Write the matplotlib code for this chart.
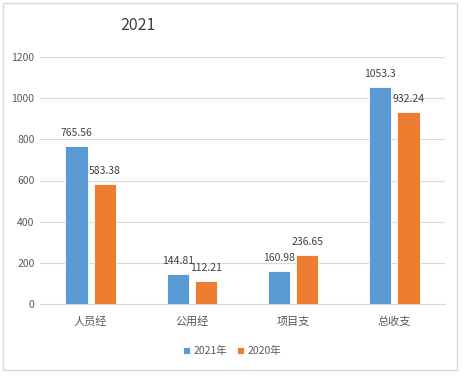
import matplotlib
matplotlib.use("Agg")
import matplotlib.pyplot as plt
from matplotlib.patches import Rectangle
import numpy as np

plt.rcParams['font.family'] = ['Noto Sans CJK SC', 'DejaVu Sans']

categories = ["人员经", "公用经", "项目支", "总收支"]
series_names = ["2021年", "2020年"]
values_2021 = [765.56, 144.81, 160.98, 1053.3]
values_2020 = [583.38, 112.21, 236.65, 932.24]
label_2021 = ["765.56", "144.81", "160.98", "1053.3"]
label_2020 = ["583.38", "112.21", "236.65", "932.24"]
yticks = [0, 200, 400, 600, 800, 1000, 1200]

W, H = 464, 377
fig = plt.figure(figsize=(W/100, H/100), dpi=100)
fig.patch.set_facecolor("white")
fig.patches.append(Rectangle((3/W, 1-370/H), 454/W, 367/H, transform=fig.transFigure,
                             fill=False, edgecolor="#D9D9D9", linewidth=1.0))

ax = fig.add_axes([40/W, 1-304/H, 405/W, (304-57)/H])
x = np.arange(len(categories))
w = 0.22
off = 0.14
c1, c2 = "#5B9BD5", "#ED7D31"
b1 = ax.bar(x-off, values_2021, w, color=c1, edgecolor="white", linewidth=0.6, label=series_names[0], zorder=3)
b2 = ax.bar(x+off, values_2020, w, color=c2, edgecolor="white", linewidth=0.6, label=series_names[1], zorder=3)
for xi, v, l in zip(x-off, values_2021, label_2021):
    ax.text(xi, v+40, l, ha="center", va="bottom", fontsize=7.5, color="#404040")
for xi, v, l in zip(x+off, values_2020, label_2020):
    ax.text(xi, v+40, l, ha="center", va="bottom", fontsize=7.5, color="#404040")

ax.set_xlim(-0.5, 3.5)
ax.set_ylim(0, 1200)
ax.set_yticks(yticks)
ax.set_xticks(x)
ax.set_xticklabels(categories)
ax.tick_params(axis="both", length=0, labelsize=7.5, colors="#595959")
ax.tick_params(axis="x", pad=9, labelsize=8)
ax.tick_params(axis="y", pad=4)
ax.grid(axis="y", color="#D9D9D9", linewidth=0.8, zorder=0)
for s in ["top", "right", "left"]:
    ax.spines[s].set_visible(False)
ax.spines["bottom"].set_color("#D9D9D9")
ax.set_facecolor("none")

fig.text(120/W, 1-25/H, "2021", fontsize=11.5, color="#404040", ha="left", va="center")

leg = fig.legend(handles=[b1, b2], loc="center", bbox_to_anchor=(232/W, 1-351/H), ncol=2,
                 frameon=False, fontsize=7.5, handlelength=0.7, handleheight=0.7,
                 handletextpad=0.3, columnspacing=1.0)
for t in leg.get_texts():
    t.set_color("#595959")

fig.savefig("out.png", dpi=100)
